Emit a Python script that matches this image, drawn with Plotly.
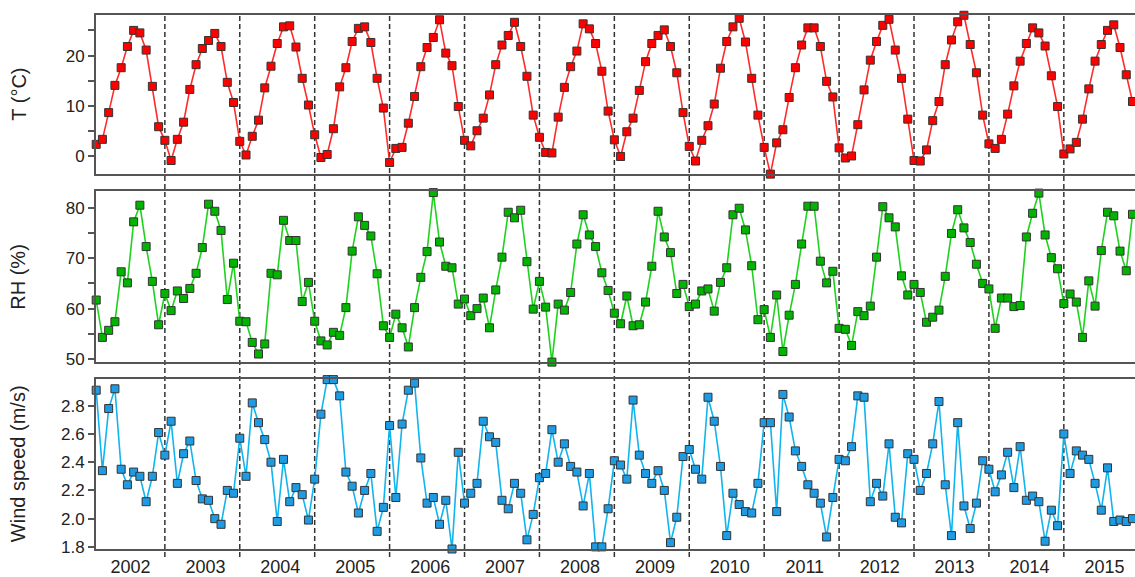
import plotly.graph_objects as go

# ---------------- data (monthly values) ----------------
years = ["2002", "2003", "2004", "2005", "2006", "2007", "2008",
         "2009", "2010", "2011", "2012", "2013", "2014", "2015"]

temperature = [
    2.4, 3.4, 8.7, 14.1, 17.6, 21.8, 25.0, 24.5, 21.1, 13.9, 5.9, 3.2,
    -0.8, 3.4, 6.8, 13.3, 18.2, 21.4, 23.0, 24.4, 21.8, 14.7, 10.7, 3.0,
    0.3, 4.0, 7.2, 13.6, 17.9, 22.4, 25.7, 25.9, 21.7, 15.5, 10.2, 4.3,
    -0.2, 0.4, 5.5, 13.8, 17.6, 22.8, 25.4, 25.7, 22.6, 15.5, 9.6, -1.2,
    1.6, 1.8, 6.6, 11.9, 17.8, 21.6, 23.6, 27.1, 20.5, 18.0, 9.9, 3.2,
    2.1, 5.1, 7.6, 12.2, 18.2, 22.1, 24.0, 26.6, 21.8, 15.9, 8.2, 3.8,
    0.8, 0.7, 7.8, 13.7, 17.8, 20.9, 26.3, 25.3, 22.4, 16.9, 9.0, 3.3,
    0.0, 4.9, 7.6, 13.1, 18.8, 22.4, 24.0, 25.1, 21.8, 16.6, 8.7, 2.0,
    -0.9, 3.2, 6.1, 10.4, 17.5, 22.8, 25.7, 27.4, 22.7, 15.5, 8.2, 1.8,
    -3.5, 2.7, 5.3, 11.7, 17.6, 22.1, 25.5, 25.5, 21.8, 14.9, 11.8, 1.7,
    -0.3, 0.1, 6.3, 13.2, 19.1, 22.8, 26.0, 27.2, 21.1, 15.5, 7.4, -0.8,
    -0.9, 1.3, 7.1, 10.9, 18.2, 23.1, 26.7, 28.0, 22.2, 16.6, 8.2, 2.5,
    1.6, 3.4, 8.4, 14.0, 18.9, 22.4, 25.5, 24.5, 21.9, 16.0, 9.9, 0.5,
    1.5, 2.8, 7.4, 13.4, 18.9, 22.2, 25.0, 26.1, 21.6, 16.2, 10.9,
]

rel_humidity = [
    61.7, 54.3, 55.7, 57.4, 67.3, 65.1, 77.2, 80.5, 72.3, 65.4, 56.8, 63.0,
    59.6, 63.5, 62.0, 64.0, 67.0, 72.1, 80.7, 79.3, 75.5, 61.8, 69.0, 57.5,
    57.4, 53.3, 51.0, 53.0, 67.0, 66.7, 77.5, 73.5, 73.5, 61.4, 65.2, 57.5,
    53.6, 52.8, 55.3, 54.7, 60.2, 71.4, 78.2, 76.5, 74.4, 66.9, 56.6, 54.3,
    58.9, 56.2, 52.4, 60.2, 66.2, 71.3, 83.0, 73.2, 68.4, 68.1, 60.9, 61.9,
    58.6, 60.0, 62.1, 56.2, 63.7, 70.2, 79.1, 78.0, 79.5, 69.3, 59.9, 65.4,
    60.3, 49.4, 60.9, 59.7, 63.2, 72.8, 78.6, 74.6, 72.3, 67.1, 63.6, 59.1,
    57.0, 62.5, 56.6, 56.8, 61.3, 68.4, 79.3, 74.2, 71.1, 63.0, 64.8, 60.4,
    60.9, 63.5, 63.9, 59.5, 65.2, 68.1, 78.6, 79.9, 75.6, 68.5, 57.8, 59.8,
    54.3, 62.7, 51.5, 58.7, 64.8, 72.8, 80.3, 80.3, 69.4, 65.1, 67.4, 56.1,
    55.9, 52.7, 59.4, 58.6, 60.5, 70.2, 80.2, 78.0, 76.2, 66.5, 62.7, 64.8,
    63.2, 57.3, 58.3, 59.7, 66.4, 74.9, 79.6, 76.0, 73.1, 68.8, 65.0, 63.9,
    56.1, 62.1, 62.1, 60.4, 60.6, 74.2, 78.9, 82.9, 74.6, 70.1, 67.9, 61.0,
    62.9, 61.3, 54.3, 65.5, 60.5, 71.5, 79.1, 78.4, 71.4, 67.5, 78.7,
]

wind_speed = [
    2.91, 2.34, 2.78, 2.92, 2.35, 2.24, 2.33, 2.30, 2.12, 2.30, 2.61, 2.45,
    2.69, 2.25, 2.46, 2.55, 2.27, 2.14, 2.13, 2.00, 1.96, 2.20, 2.18, 2.57,
    2.30, 2.82, 2.68, 2.56, 2.40, 1.98, 2.42, 2.12, 2.22, 2.17, 1.99, 2.28,
    2.74, 2.985, 2.985, 2.87, 2.33, 2.23, 2.04, 2.20, 2.32, 1.91, 2.08, 2.66,
    2.15, 2.67, 2.91, 2.96, 2.43, 2.11, 2.15, 1.96, 2.13, 1.785, 2.47, 2.11,
    2.18, 2.25, 2.69, 2.58, 2.54, 2.13, 2.07, 2.25, 2.18, 1.85, 2.03, 2.29,
    2.32, 2.63, 2.40, 2.53, 2.37, 2.33, 2.09, 2.32, 1.80, 1.80, 2.07, 2.41,
    2.38, 2.28, 2.84, 2.45, 2.32, 2.25, 2.34, 2.20, 1.83, 2.01, 2.44, 2.49,
    2.35, 2.28, 2.86, 2.69, 2.37, 1.88, 2.18, 2.10, 2.05, 2.04, 2.25, 2.68,
    2.68, 2.05, 2.88, 2.72, 2.48, 2.37, 2.24, 2.18, 2.11, 1.87, 2.15, 2.42,
    2.41, 2.51, 2.87, 2.86, 2.12, 2.25, 2.16, 2.53, 2.01, 1.97, 2.46, 2.42,
    2.20, 2.32, 2.53, 2.83, 2.24, 1.88, 2.68, 2.09, 1.93, 2.11, 2.41, 2.35,
    2.19, 2.31, 2.47, 2.22, 2.51, 2.13, 2.16, 2.12, 1.84, 2.06, 1.95, 2.60,
    2.32, 2.48, 2.45, 2.42, 2.25, 2.06, 2.36, 1.98, 1.99, 1.98, 2.00,
]

month_index = list(range(len(temperature)))
year_label_pos = [5.5 + 12 * k for k in range(len(years))]
year_boundaries = [11 + 12 * k for k in range(len(years) - 1)]

# ---------------- figure ----------------
FONT = "Arial, Liberation Sans, sans-serif"
AXIS_COL = "#555555"
fig = go.Figure()

series = [
    (temperature, "y", "x2", "#ff2b2b", "#ff0000"),
    (rel_humidity, "y2", "x3", "#1ed21e", "#00b400"),
    (wind_speed, "y3", "x", "#10b4ee", "#1e9be2"),
]
for vals, ya, xa, lc, mc in series:
    fig.add_trace(go.Scatter(
        x=month_index, y=vals, xaxis=xa, yaxis=ya, mode="lines+markers",
        line=dict(color=lc, width=1.6),
        marker=dict(symbol="square", size=8, color=mc,
                    line=dict(color="#333333", width=1)),
        cliponaxis=False, showlegend=False, hoverinfo="skip"))

xrange = [-0.03, 166.4]
common_x = dict(range=xrange, showline=True, linecolor=AXIS_COL, linewidth=2,
                mirror=True, showgrid=False, zeroline=False, ticks="")
common_y = dict(showline=True, linecolor=AXIS_COL, linewidth=2, mirror=False,
                showgrid=False, zeroline=False, ticks="outside", ticklen=6,
                tickwidth=1.5, tickcolor=AXIS_COL,
                tickfont=dict(family=FONT, size=17, color="#222222"))

dom_T = [0.702, 1.0]
dom_RH = [0.350, 0.670]
dom_W = [0.0, 0.318]

fig.update_layout(
    width=1135, height=577,
    margin=dict(l=96, r=0, t=15, b=26),
    paper_bgcolor="white", plot_bgcolor="white",
    xaxis=dict(**common_x, anchor="y3", tickmode="array",
               tickvals=year_label_pos, ticktext=years,
               tickfont=dict(family=FONT, size=18, color="#222222")),
    xaxis2=dict(**common_x, anchor="y", matches="x", showticklabels=False),
    xaxis3=dict(**common_x, anchor="y2", matches="x", showticklabels=False),
    yaxis=dict(**common_y, domain=dom_T, range=[-3.5, 28.05], anchor="x2",
               tickmode="array", tickvals=[0, 5, 10, 15, 20, 25],
               ticktext=["0", "", "10", "", "20", ""]),
    yaxis2=dict(**common_y, domain=dom_RH, range=[49.4, 83.27], anchor="x3",
                tickmode="array", tickvals=[50, 55, 60, 65, 70, 75, 80],
                ticktext=["50", "", "60", "", "70", "", "80"]),
    yaxis3=dict(**common_y, domain=dom_W, range=[1.785, 2.988], anchor="x",
                tickmode="array", tickvals=[1.8, 2.0, 2.2, 2.4, 2.6, 2.8],
                tickformat=".1f"),
)

for xb in year_boundaries:
    fig.add_shape(type="line", xref="x", yref="paper", x0=xb, x1=xb,
                  y0=-0.015, y1=1.0, layer="below",
                  line=dict(color="#333333", width=1.5, dash="5px,3px"))

titles = [("T (°C)", dom_T), ("RH (%)", dom_RH), ("Wind speed (m/s)", dom_W)]
for txt, dom in titles:
    fig.add_annotation(text=txt, xref="paper", yref="paper",
                       x=-0.075, y=(dom[0] + dom[1]) / 2, textangle=-90,
                       showarrow=False, xanchor="center", yanchor="middle",
                       font=dict(family=FONT, size=20, color="#222222"))

# remove the browser's default 8px page margin so the figure fills the window
fig.write_html(
    "out.html",
    config={"displayModeBar": False},
    post_script="document.body.style.margin='0';"
                "document.body.style.overflow='hidden';",
)
